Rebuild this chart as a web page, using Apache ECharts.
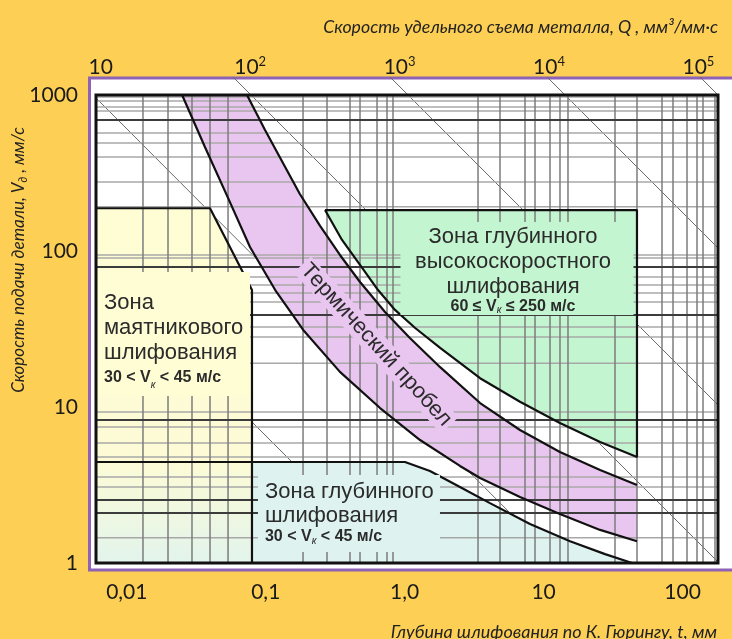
<!DOCTYPE html>
<html>
<head>
<meta charset="utf-8">
<script src="https://cdn.jsdelivr.net/npm/echarts@6/dist/echarts.min.js"></script>
<style>
html,body{margin:0;padding:0;background:#FDCF54;}
#chart{width:732px;height:639px;}
</style>
</head>
<body>
<div id="chart"></div>
<script>
// ---------- axis ranges ----------
const X_MIN = 0.006, X_MAX = 180;       // t, mm (bottom, log)
const Y_MIN = 1, Y_MAX = 1000;          // Vд, mm/s (left, log)
const Q_MIN = 9.29, Q_MAX = 135270;     // Q (top, log)

// ---------- tick labels ----------
const xTickLabels = ['0,01', '0,1', '1,0', '10', '100'];   // 10^-2 .. 10^2
const yTickLabels = ['1', '10', '100', '1000'];            // 10^0 .. 10^3
const qTickExponents = [1, 2, 3, 4, 5];                     // 10 .. 10^5

// ---------- zones (t, Vд) ----------
const pendulumZone = [[0.006,188],[0.0397,188],[0.0796,56.2],[0.0796,1],[0.006,1]];
const deepZoneEdge = [[0.006,4.44],[1.005,4.44],[1.52,3.89],[2.50,3.07],[4.11,2.42],[7.98,1.78],[15.5,1.38],[27.7,1.14],[43.3,1]];
const deepZoneBase = [[0.006,1]];
const hedgEdge = [[0.267,183],[0.354,117.7],[0.477,81.4],[0.643,56.2],[0.852,41.9],[1.19,32.1],[1.80,23.9],[3.49,15.3],[6.76,10.8],[13.1,7.90],[25.5,5.97],[47.0,4.78]];
const hedgCorner = [[47.0,183],[0.267,183]];
const thermalUpper = [[0.0733,1000],[0.0988,597],[0.133,367],[0.176,232],[0.246,145],[0.342,94.3],[0.477,63.3],[0.722,40.6],[1.09,27.7],[1.80,18.0],[3.49,10.6],[6.76,7.12],[13.1,5.15],[25.5,3.95],[47.0,3.16]];
const thermalLower = [[0.0250,1000],[0.0365,464],[0.0535,219],[0.0770,106],[0.117,56.2],[0.186,31.2],[0.342,16.8],[0.665,9.85],[1.29,6.14],[2.50,4.19],[3.49,3.51],[6.76,2.65],[13.1,2.06],[25.5,1.63],[47.0,1.38]];

// ---------- nomogram grid ----------
const gridX = [0.01307,0.01979,0.02945,0.03970,0.05352,0.1855,0.2760,0.4041,0.4770,0.6324,0.7461,0.8241,3.372,4.855,7.346,8.672,11.12,13.12,14.98,32.65,47.01,71.15,85.39,107.7,127.1,140.4,171.2];
const gridY = [971,915,838,790,571,493,401,277,192,94.3,90.2,68.1,60.5,53.8,47.1,32.6,28.1,19.1,9.29,7.44,5.88,4.78,3.56,3.07,1.45];
const gridYDark = [691,79.0,38.9,8.25,2.53,2.09];

// ---------- constant-Q lines [t1, V1, t2, V2] ----------
const qLines = [[0.006,8.25,0.0653,1],[0.006,80.1,0.824,1],[0.006,957,13.12,1],[0.0581,1305,180,1.015],[0.784,1305,180,10.3],[10.58,1305,180,104.5],[133.6,1305,180,1000]];

// ---------- annotation anchors ----------
const pendulumTextAt = [0.0061, 73.35];
const hedgTextAt = [6.434, 153.4];
const deepTextAt = [0.0879, 3.665];
const thermalTextAt = [0.622, 25.0];

// ---------- colours ----------
const BG = '#FDCF54';
const C_YELLOW = '#FFFDD3', C_CYAN = '#DEF3F0', C_GREEN = '#C3F5D0', C_PURPLE = '#E9C6EF';
const TXT = '#2b2b2b';
const ZF = 'Liberation Sans';

const chart = echarts.init(document.getElementById('chart'), null, {renderer: 'canvas'});

function nearPow(v) {
  const l = Math.log10(v), k = Math.round(l);
  return Math.abs(l - k) < 0.01 ? k : null;
}

function polySeries(points, fill, z) {
  return {
    type: 'custom', xAxisIndex: 0, yAxisIndex: 0, z: z, silent: true, clip: false,
    data: [[1, 1]],
    renderItem: (params, api) => ({
      type: 'polygon',
      shape: {points: points.map(p => api.coord(p))},
      style: {fill: fill, stroke: null}
    })
  };
}
function segSeries(segs, color, width, z) {
  return {
    type: 'custom', xAxisIndex: 0, yAxisIndex: 0, z: z, silent: true, clip: false,
    data: segs,
    renderItem: (params, api) => {
      const a = api.coord([api.value(0), api.value(1)]);
      const b = api.coord([api.value(2), api.value(3)]);
      return {type: 'line', shape: {x1: a[0], y1: a[1], x2: b[0], y2: b[1]}, style: {stroke: color, lineWidth: width}};
    }
  };
}
function curve(data, z) {
  return {type: 'line', xAxisIndex: 0, yAxisIndex: 0, data: data, symbol: 'none', showSymbol: false,
    z: z, silent: true, clip: false, lineStyle: {color: '#111', width: 2.2}};
}
function textSeries(pos, style, rotation, z) {
  return {
    type: 'custom', xAxisIndex: 0, yAxisIndex: 0, z: z, silent: true, clip: false,
    data: [pos],
    renderItem: (params, api) => {
      const p = api.coord([api.value(0), api.value(1)]);
      return {type: 'text', x: p[0], y: p[1], rotation: rotation || 0, style: style};
    }
  };
}
function rich(lhBig, lhSmall) {
  return {
    z: {fontSize: 22, lineHeight: lhBig, fontFamily: ZF, fill: TXT},
    s: {fontSize: 16, fontWeight: 'bold', lineHeight: lhSmall, fontFamily: ZF, fill: TXT},
    k: {fontSize: 10, fontStyle: 'italic', lineHeight: 10, verticalAlign: 'bottom', fontFamily: ZF, fill: TXT}
  };
}

const vSegs = gridX.map(v => [v, Y_MIN, v, Y_MAX]);
const hSegs = gridY.map(v => [X_MIN, v, X_MAX, v]);
const hDarkSegs = gridYDark.map(v => [X_MIN, v, X_MAX, v]);

const pendulumGrad = new echarts.graphic.LinearGradient(0, 0, 0, 1, [
  {offset: 0, color: C_YELLOW}, {offset: 0.72, color: '#FCFBD6'}, {offset: 1, color: '#E2F4EC'}
]);

const option = {
  backgroundColor: BG,
  animation: false,
  grid: [
    {show: true, left: 89.5, top: 78, right: -10, bottom: 69, backgroundColor: '#ffffff',
     borderColor: '#8E63B5', borderWidth: 3, z: 0, outerBoundsMode: 'none', containLabel: false},
    {show: true, left: 96, top: 95, right: 14, bottom: 76, backgroundColor: 'transparent',
     borderColor: '#111111', borderWidth: 3, z: 10, outerBoundsMode: 'none', containLabel: false}
  ],
  xAxis: [
    {type: 'log', gridIndex: 1, position: 'bottom', min: X_MIN, max: X_MAX,
     axisLine: {show: false}, axisTick: {show: false}, splitLine: {show: false}, minorSplitLine: {show: false},
     axisLabel: {margin: 19, showMinLabel: false, showMaxLabel: false, fontSize: 21, fontFamily: 'Lato', color: '#1a1a1a',
       formatter: v => { const k = nearPow(v); return (k === null || k < -2 || k > 2) ? '' : xTickLabels[k + 2]; }}},
    {type: 'log', gridIndex: 1, position: 'top', min: Q_MIN, max: Q_MAX,
     axisLine: {show: false}, axisTick: {show: false}, splitLine: {show: false}, minorSplitLine: {show: false},
     axisLabel: {margin: 16, showMinLabel: false, showMaxLabel: false,
       formatter: v => { const k = nearPow(v); if (k === null || qTickExponents.indexOf(k) < 0) return ''; return k === 1 ? '{b|10}' : '{b|10}{s|' + k + '}'; },
       rich: {b: {fontSize: 21, fontFamily: 'Lato', color: '#1a1a1a', lineHeight: 24},
              s: {fontSize: 13, fontFamily: 'Lato', color: '#1a1a1a', lineHeight: 13, verticalAlign: 'top'}}}},
    {type: 'value', gridIndex: 0, show: false, min: 0, max: 1}
  ],
  yAxis: [
    {type: 'log', gridIndex: 1, min: Y_MIN, max: Y_MAX,
     axisLine: {show: false}, axisTick: {show: false}, splitLine: {show: false}, minorSplitLine: {show: false},
     axisLabel: {margin: 18, fontSize: 21, fontFamily: 'Lato', color: '#1a1a1a',
       formatter: v => { const k = nearPow(v); return (k === null || k < 0 || k > 3) ? '' : yTickLabels[k]; }}},
    {type: 'value', gridIndex: 0, show: false, min: 0, max: 1}
  ],
  graphic: [
    {type: 'text', x: 718, y: 27, silent: true,
     style: {text: 'Скорость удельного съема металла, Q , мм³/мм·с', fontSize: 17.7, fontStyle: 'italic', fontFamily: 'Lato',
             fill: '#222', align: 'right', verticalAlign: 'middle'}},
    {type: 'text', x: 717, y: 632, silent: true,
     style: {text: 'Глубина шлифования по К. Гюрингу, t, мм', fontSize: 18, fontStyle: 'italic', fontFamily: 'Lato',
             fill: '#222', align: 'right', verticalAlign: 'middle'}},
    {type: 'text', x: 19, y: 260, rotation: Math.PI / 2, silent: true,
     style: {text: '{a|Скорость подачи детали, V}{b|д}{a| , мм/с}', align: 'center', verticalAlign: 'middle',
             rich: {a: {fontSize: 17, fontStyle: 'italic', fontFamily: 'Lato', fill: '#222', lineHeight: 20},
                    b: {fontSize: 11, fontStyle: 'italic', fontFamily: 'Lato', fill: '#222', lineHeight: 11, verticalAlign: 'bottom'}}}}
  ],
  series: [
    segSeries(qLines, '#6a6a6a', 1, 1),
    polySeries(deepZoneEdge.concat(deepZoneBase), C_CYAN, 2),
    polySeries(pendulumZone, pendulumGrad, 2),
    polySeries(hedgEdge.concat(hedgCorner), C_GREEN, 2),
    polySeries(thermalUpper.concat(thermalLower.slice().reverse()), C_PURPLE, 2),
    segSeries(hSegs, '#a8a8a8', 1.5, 3),
    segSeries(vSegs, '#7c7c7c', 1.5, 3),
    segSeries(hDarkSegs, '#3c3c3c', 2, 3),
    curve(pendulumZone.slice(0, 4), 4),
    curve(deepZoneEdge, 4),
    curve(hedgEdge.concat([[47.0, 183], [0.267, 183]]), 4),
    curve(thermalUpper, 4),
    curve(thermalLower, 4),
    textSeries(pendulumTextAt, {
      text: '{z|Зона}\n{z|маятникового}\n{z|шлифования}\n{s|30 < V}{k|к}{s| < 45 м/с}',
      rich: rich(25, 25), align: 'left', verticalAlign: 'top', width: 142,
      backgroundColor: C_YELLOW, padding: [18, 4, 6, 7]
    }, 0, 6),
    textSeries(hedgTextAt, {
      text: '{z|Зона глубинного}\n{z|высокоскоростного}\n{z|шлифования}\n{s|60 ≤ V}{k|к}{s| ≤ 250 м/с}',
      rich: rich(25, 16), align: 'center', verticalAlign: 'top', width: 225,
      backgroundColor: C_GREEN, padding: [2, 8, 0, 0]
    }, 0, 6),
    textSeries(deepTextAt, {
      text: '{z|Зона глубинного}\n{z|шлифования}\n{s|30 < V}{k|к}{s| < 45 м/с}',
      rich: rich(24, 18), align: 'left', verticalAlign: 'top', width: 170,
      backgroundColor: C_CYAN, padding: [5, 5, 6, 7]
    }, 0, 6),
    textSeries(thermalTextAt, {
      text: 'Термический пробел', fontSize: 22, fontFamily: ZF, fill: TXT,
      align: 'center', verticalAlign: 'middle', backgroundColor: C_PURPLE, padding: [1, 3]
    }, -47.5 * Math.PI / 180, 6)
  ]
};
chart.setOption(option);
</script>
</body>
</html>
